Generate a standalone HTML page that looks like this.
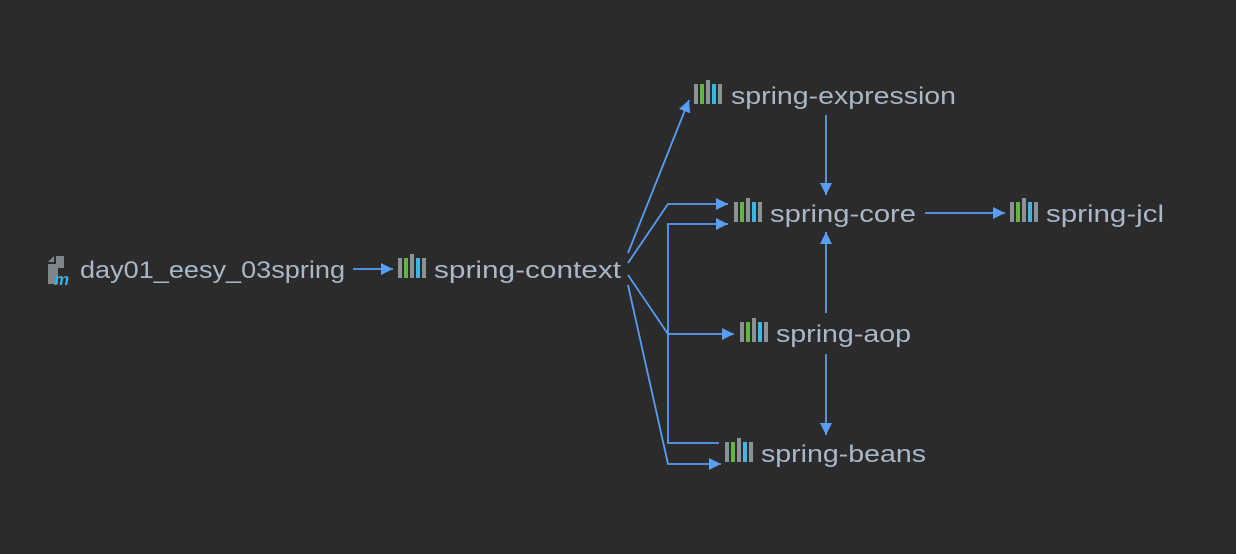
<!DOCTYPE html>
<html><head><style>
html,body{margin:0;padding:0;background:#2b2b2b;}
svg{display:block}
text{font-family:"Liberation Sans",sans-serif;font-size:24px;fill:#a9b7c6;}
</style></head><body>
<svg width="1236" height="554" viewBox="0 0 1236 554" xmlns="http://www.w3.org/2000/svg">
<defs>
<marker id="a" viewBox="0 0 10 10" refX="10" refY="5" markerWidth="12" markerHeight="12" markerUnits="userSpaceOnUse" orient="auto"><path d="M0,0L10,5L0,10z" fill="#589df6"/></marker>
<g id="ic">
<rect x="0" y="4" width="4" height="20" fill="#8a9296"/>
<rect x="6" y="4" width="4" height="20" fill="#62b543"/>
<rect x="12" y="0" width="4" height="24" fill="#8a9296"/>
<rect x="18" y="4" width="4" height="20" fill="#40b6e0"/>
<rect x="24" y="4" width="4" height="20" fill="#8a9296"/>
</g>
</defs>
<g stroke="#589df6" stroke-width="1.8" fill="none">
<line x1="353" y1="269" x2="393" y2="269" marker-end="url(#a)"/>
<line x1="628" y1="253" x2="689" y2="100" marker-end="url(#a)"/>
<polyline points="628,263 668,204 728,204" marker-end="url(#a)"/>
<polyline points="719,443 668,443 668,224 728,224" marker-end="url(#a)"/>
<polyline points="628,275 668,334 734,334" marker-end="url(#a)"/>
<polyline points="628,285 668,464 721,464" marker-end="url(#a)"/>
<line x1="826" y1="115" x2="826" y2="195" marker-end="url(#a)"/>
<line x1="826" y1="313" x2="826" y2="232" marker-end="url(#a)"/>
<line x1="826" y1="354" x2="826" y2="435" marker-end="url(#a)"/>
<line x1="925" y1="213" x2="1005" y2="213" marker-end="url(#a)"/>
</g>
<!-- module icon -->
<path d="M48,262 L54,256 L54,262 Z" fill="#7d868b"/>
<path d="M56,256 L64,256 L64,268 L58,268 L58,284 L48,284 L48,264 L56,264 Z" fill="#7d868b"/>
<text x="54" y="285" style="font-size:17px;font-style:italic;font-weight:bold;fill:#3ab0e0">m</text>
<text x="80" y="278" textLength="265" lengthAdjust="spacingAndGlyphs">day01_eesy_03spring</text>
<use href="#ic" x="398" y="254"/>
<text x="434" y="278" textLength="187" lengthAdjust="spacingAndGlyphs">spring-context</text>
<use href="#ic" x="694" y="80"/>
<text x="731" y="104" textLength="225" lengthAdjust="spacingAndGlyphs">spring-expression</text>
<use href="#ic" x="734" y="198"/>
<text x="770" y="222" textLength="146" lengthAdjust="spacingAndGlyphs">spring-core</text>
<use href="#ic" x="1010" y="198"/>
<text x="1046" y="222" textLength="118" lengthAdjust="spacingAndGlyphs">spring-jcl</text>
<use href="#ic" x="740" y="318"/>
<text x="776" y="342" textLength="135" lengthAdjust="spacingAndGlyphs">spring-aop</text>
<use href="#ic" x="725" y="438"/>
<text x="761" y="462" textLength="165" lengthAdjust="spacingAndGlyphs">spring-beans</text>
</svg>
</body></html>
